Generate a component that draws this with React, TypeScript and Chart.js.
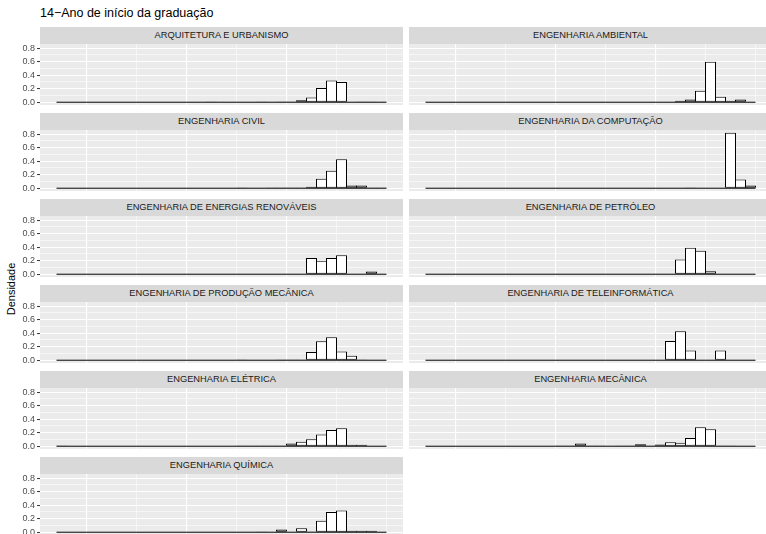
import React, { useEffect, useRef } from "react";
import { Chart, registerables } from "chart.js";

Chart.register(...registerables);

// ---- data ----
const years = [
  1985, 1986, 1987, 1988, 1989, 1990, 1991, 1992, 1993, 1994, 1995,
  1996, 1997, 1998, 1999, 2000, 2001, 2002, 2003, 2004, 2005, 2006,
  2007, 2008, 2009, 2010, 2011, 2012, 2013, 2014, 2015, 2016, 2017,
];

const arquitetura = [0,0,0,0,0, 0,0,0,0,0, 0,0,0,0,0, 0.005,0,0,0,0, 0.01,0,0.005,0.005,0.03, 0.07,0.21,0.32,0.30,0, 0.01,0.005,0];
const ambiental = [0,0,0,0,0, 0,0,0,0,0, 0,0,0,0,0, 0,0,0,0,0, 0,0,0,0,0, 0.02,0.04,0.17,0.60,0.08, 0.02,0.04,0];
const civil = [0,0,0,0,0, 0,0,0,0,0, 0,0,0,0,0, 0,0,0,0.005,0, 0,0.005,0.012,0.005,0.003, 0.02,0.14,0.26,0.43,0.04, 0.04,0.012,0.012];
const computacao = [0,0,0,0,0, 0,0,0,0,0, 0,0,0,0,0, 0,0,0,0,0, 0,0,0,0,0, 0,0.01,0,0,0, 0.82,0.13,0.04];
const energias = [0,0,0,0,0, 0,0,0,0,0, 0,0,0,0,0, 0,0,0,0,0, 0,0,0,0,0, 0.24,0.20,0.24,0.28,0, 0,0.04,0];
const petroleo = [0,0,0,0,0, 0,0,0,0,0, 0,0,0,0,0, 0,0,0,0,0, 0,0,0,0,0, 0.217,0.391,0.348,0.043,0, 0,0,0];
const producao = [0,0,0,0,0, 0,0,0,0,0, 0,0,0,0,0, 0,0,0,0.01,0, 0,0,0.005,0.005,0.005, 0.12,0.28,0.34,0.13,0.065, 0.01,0,0];
const teleinformatica = [0,0,0,0,0, 0,0,0,0,0, 0,0,0,0,0, 0,0,0,0,0, 0,0,0,0,0.286, 0.429,0.143,0,0,0.143, 0,0,0];
const eletrica = [0.01,0,0,0,0, 0,0,0,0,0, 0,0,0,0,0, 0,0,0,0.005,0.005, 0.005,0.005,0.005,0.04,0.065, 0.105,0.175,0.24,0.265,0.02, 0.02,0,0];
const mecanica = [0,0,0,0,0, 0,0,0,0,0, 0,0,0,0.005,0.005, 0.04,0.01,0.005,0,0.01, 0.01,0.03,0.01,0.025,0.06, 0.05,0.12,0.28,0.25,0.01, 0.01,0,0];
const quimica = [0,0,0,0,0, 0,0,0,0,0, 0,0,0,0,0, 0,0,0,0,0, 0.01,0,0.04,0,0.06, 0.01,0.17,0.30,0.32,0.02, 0.02,0.02,0];

const panelTitles = [
  "ARQUITETURA E URBANISMO",
  "ENGENHARIA AMBIENTAL",
  "ENGENHARIA CIVIL",
  "ENGENHARIA DA COMPUTAÇÃO",
  "ENGENHARIA DE ENERGIAS RENOVÁVEIS",
  "ENGENHARIA DE PETRÓLEO",
  "ENGENHARIA DE PRODUÇÃO MECÂNICA",
  "ENGENHARIA DE TELEINFORMÁTICA",
  "ENGENHARIA ELÉTRICA",
  "ENGENHARIA MECÂNICA",
  "ENGENHARIA QUÍMICA",
];
const panelValues = [
  arquitetura, ambiental, civil, computacao, energias, petroleo,
  producao, teleinformatica, eletrica, mecanica, quimica,
];

const yTicks = [0, 0.1, 0.2, 0.3, 0.4, 0.5, 0.6, 0.7, 0.8];
const yMajor = [0, 0.2, 0.4, 0.6, 0.8];
const xBreaks = [1985, 1990, 1995, 2000, 2005, 2010, 2015];
const xMajor = [1990, 2000, 2010];
const yMin = -0.041;
const yMax = 0.861;

const FONT = '"Liberation Sans", Arial, Helvetica, sans-serif';

function isMajorY(v: number) {
  return yMajor.some((m) => Math.abs(m - v) < 1e-6);
}

function Panel({ idx }: { idx: number }) {
  const ref = useRef<HTMLCanvasElement | null>(null);
  const col = idx % 2;
  const row = Math.floor(idx / 2);
  const isLeft = col === 0;
  const values = panelValues[idx];

  const canvasLeft = isLeft ? 0 : 409;
  const canvasWidth = isLeft ? 403 : 363;
  const panelTop = 44 + 86 * row;
  const panelHeight = 61;

  useEffect(() => {
    if (!ref.current) return;
    const first = years[0] - 0.5;
    const last = years[years.length - 1] + 0.5;
    const span = last - first;
    const chart = new Chart(ref.current, {
      type: "bar",
      data: {
        datasets: [
          {
            type: "line",
            data: [
              { x: first, y: 0 },
              { x: last, y: 0 },
            ],
            borderColor: "#000000",
            borderWidth: 1,
            pointRadius: 0,
            order: 0,
          } as any,
          {
            type: "bar",
            data: years.map((y, i) => ({ x: y, y: values[i] })),
            backgroundColor: "#FFFFFF",
            borderColor: "#000000",
            borderWidth: 1,
            borderSkipped: false,
            barPercentage: 1.1,
            categoryPercentage: 1,
            grouped: false,
            order: 1,
          } as any,
        ],
      },
      options: {
        animation: false,
        responsive: false,
        maintainAspectRatio: false,
        layout: { padding: 0 },
        plugins: {
          legend: { display: false },
          tooltip: { enabled: false },
          title: { display: false },
        },
        scales: {
          x: {
            type: "linear",
            min: first - span * 0.05,
            max: last + span * 0.05,
            offset: false,
            border: { display: false },
            ticks: { display: false, autoSkip: false },
            grid: {
              color: "#FFFFFF",
              drawTicks: false,
              lineWidth: (ctx: any) =>
                xMajor.includes(ctx.tick?.value) ? 1.1 : 0.55,
            },
            afterBuildTicks: (s: any) => {
              s.ticks = xBreaks.map((v) => ({ value: v }));
            },
            afterFit: (s: any) => {
              s.height = 0;
              s.paddingLeft = 0;
              s.paddingRight = 0;
            },
          },
          y: {
            type: "linear",
            min: yMin,
            max: yMax,
            border: { display: false },
            ticks: {
              display: isLeft,
              autoSkip: false,
              color: "#4D4D4D",
              font: { family: FONT, size: 9 },
              padding: 2,
              callback: (v: any) => (isMajorY(Number(v)) ? Number(v).toFixed(1) : ""),
            },
            grid: {
              color: "#FFFFFF",
              drawTicks: isLeft,
              tickLength: 3,
              tickWidth: 1,
              tickColor: (ctx: any) =>
                isMajorY(ctx.tick?.value) ? "#333333" : "rgba(0,0,0,0)",
              lineWidth: (ctx: any) => (isMajorY(ctx.tick?.value) ? 1.1 : 0.55),
            },
            afterBuildTicks: (s: any) => {
              s.ticks = yTicks.map((v) => ({ value: v }));
            },
            afterFit: (s: any) => {
              s.width = isLeft ? 40 : 0;
              s.paddingTop = 0;
              s.paddingBottom = 0;
            },
          },
        },
      },
      plugins: [
        {
          id: "panelBg",
          beforeDraw: (c: any) => {
            const { ctx, chartArea } = c;
            ctx.save();
            ctx.fillStyle = "#EBEBEB";
            ctx.fillRect(
              chartArea.left,
              chartArea.top,
              chartArea.right - chartArea.left,
              chartArea.bottom - chartArea.top
            );
            ctx.restore();
          },
        },
      ],
    } as any);
    return () => chart.destroy();
  }, [idx]);

  const stripLeft = isLeft ? 40 : 409;
  const stripWidth = 363;
  return (
    <>
      <div
        style={{
          position: "absolute",
          left: stripLeft,
          top: 27 + 86 * row,
          width: stripWidth,
          height: 17,
          background: "#D9D9D9",
          color: "#1A1A1A",
          fontFamily: FONT,
          fontSize: 9.3,
          lineHeight: "17px",
          textAlign: "center",
          whiteSpace: "nowrap",
        }}
      >
        {panelTitles[idx]}
      </div>
      <canvas
        ref={ref}
        width={canvasWidth}
        height={panelHeight}
        style={{
          position: "absolute",
          left: canvasLeft,
          top: panelTop,
          width: canvasWidth,
          height: panelHeight,
        }}
      />
    </>
  );
}

export default function App() {
  return (
    <div
      style={{
        position: "fixed",
        left: 0,
        top: 0,
        width: 766,
        height: 534,
        overflow: "hidden",
        background: "#FFFFFF",
        fontFamily: FONT,
      }}
    >
      <div
        style={{
          position: "absolute",
          left: 40,
          top: 5,
          fontSize: 12.5,
          color: "#000000",
          whiteSpace: "nowrap",
          lineHeight: "16px",
        }}
      >
        14−Ano de início da graduação
      </div>
      <div
        style={{
          position: "absolute",
          left: 11,
          top: 289,
          transform: "translate(-50%, -50%) rotate(-90deg)",
          fontSize: 11,
          color: "#000000",
          whiteSpace: "nowrap",
          lineHeight: "13px",
        }}
      >
        Densidade
      </div>
      {panelTitles.map((_, i) => (
        <Panel key={i} idx={i} />
      ))}
    </div>
  );
}
